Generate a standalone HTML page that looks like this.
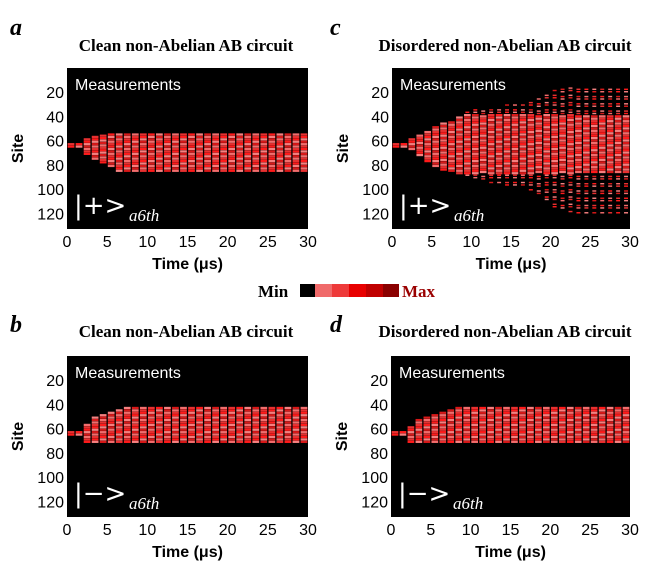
<!DOCTYPE html>
<html><head><meta charset="utf-8"><style>
body{margin:0;background:#fff;width:657px;height:564px;overflow:hidden}
svg{display:block}
.lbl{font-family:"Liberation Serif",serif;font-weight:bold}
.ax{font-family:"Liberation Sans",sans-serif;font-size:16px;fill:#000}
</style></head><body>
<svg id="fig" width="657" height="564">
<text x="10" y="35" class="lbl" font-size="24" font-style="italic">a</text>
<text x="330" y="35" class="lbl" font-size="24" font-style="italic">c</text>
<text x="10" y="332" class="lbl" font-size="24" font-style="italic">b</text>
<text x="330" y="332" class="lbl" font-size="24" font-style="italic">d</text>
<text x="186" y="51" class="lbl" font-size="17" text-anchor="middle">Clean non-Abelian AB circuit</text>
<text x="505" y="51" class="lbl" font-size="17" text-anchor="middle">Disordered non-Abelian AB circuit</text>
<text x="186" y="337" class="lbl" font-size="17" text-anchor="middle">Clean non-Abelian AB circuit</text>
<text x="505" y="337" class="lbl" font-size="17" text-anchor="middle">Disordered non-Abelian AB circuit</text>
<g>
<text x="258" y="297" class="lbl" font-size="17">Min</text>
<rect x="300" y="284" width="15" height="13" fill="#000"/>
<rect x="315" y="284" width="17" height="13" fill="#f06a6a"/>
<rect x="332" y="284" width="17" height="13" fill="#ee3a3a"/>
<rect x="349" y="284" width="17" height="13" fill="#e80000"/>
<rect x="366" y="284" width="17" height="13" fill="#c00000"/>
<rect x="383" y="284" width="16" height="13" fill="#8a0000"/>
<text x="402" y="297" class="lbl" font-size="17" fill="#9a0000">Max</text>
</g>
<g id="panels"></g>
</svg>
<script>
const times=[0,1,2,3,4,5,6,7,8,9,10,11,12,13,14,15,16,17,18,19,20,21,22,23,24,25,26,27,28,29];
const topA=[62,62,58,56,55,54,54,54,54,54,54,54,54,54,54,54,54,54,54,54,54,54,54,54,54,54,54,54,54,54];
const botA=[66,66,72,76,78,82,85,85,85,85,85,85,85,85,85,85,85,85,85,85,85,85,85,85,85,85,85,85,85,85];
const topC=[62,62,58,55,52,48,45,44,40,36,34,33,32,32,30,30,30,28,25,22,18,17,16,15,15,15,15,15,15,15];
const botC=[66,66,68,72,78,82,85,86,88,90,92,93,95,96,98,100,100,102,104,110,115,118,120,121,121,121,121,121,121,121];
const topB=[62,62,56,50,48,46,44,42,42,42,42,42,42,42,42,42,42,42,42,42,42,42,42,42,42,42,42,42,42,42];
const botB=[66,66,72,72,72,72,72,72,72,72,72,72,72,72,72,72,72,72,72,72,72,72,72,72,72,72,72,72,72,72];
const topD=[62,62,58,52,50,48,46,44,42,42,42,42,42,42,42,42,42,42,42,42,42,42,42,42,42,42,42,42,42,42];
const botD=[66,66,72,72,72,72,72,72,72,72,72,72,72,72,72,72,72,72,72,72,72,72,72,72,72,72,72,72,72,72];
const xTicks=[0,5,10,15,20,25,30];
const yTicks=[20,40,60,80,100,120];
const panels=[
 {id:'a',x:67,y:68,w:241,h:161,top:topA,bot:botA,ket:'+',sparse:false},
 {id:'c',x:392,y:68,w:238,h:161,top:topC,bot:botC,ket:'+',sparse:true},
 {id:'b',x:67,y:356,w:241,h:161,top:topB,bot:botB,ket:'−',sparse:false},
 {id:'d',x:391,y:356,w:239,h:161,top:topD,bot:botD,ket:'−',sparse:false}];
const NS='http://www.w3.org/2000/svg';
const cols=['#f26d6d','#e83030','#ff1a1a','#f58080','#d81818'];
function mk(t,a,p){const e=document.createElementNS(NS,t);for(const k in a)e.setAttribute(k,a[k]);p.appendChild(e);return e;}
const root=document.getElementById('panels');
panels.forEach(P=>{
 const g=mk('g',{},root);
 
 
 const sx=t=>P.x+t/30*P.w, sy=s=>P.y+s/133*P.h;
 const bg=mk('rect',{x:P.x,y:P.y,width:P.w,height:P.h,fill:'#000'},g);
 
 
 times.forEach((t,i)=>{
  for(let s=P.top[i];s<P.bot[i];s+=2){
   const far=P.sparse && Math.abs(s-62)>24;
   if(far && (s/2|0)%3===1) continue;
   const w0=far?0.25:0.08, w1=far?0.75:0.92;
   const c=mk('rect',{x:sx(t+w0),y:sy(s),width:sx(t+w1)-sx(t+w0),height:sy(s+(far?1.2:1.85))-sy(s),fill:cols[(s/2+i)%5|0]},g);
   
   
  }
 });
 const m=mk('text',{x:P.x+8,y:P.y+22,fill:'#fff','font-family':'Liberation Sans, sans-serif','font-size':'16'},g);
 m.textContent='Measurements';
 
 
 const k=mk('text',{x:P.x+7,y:P.y+P.h-15,fill:'#fff','font-family':'DejaVu Sans, sans-serif','font-size':'26'},g);
 k.textContent='|'+P.ket+'>';
 
 
 const k2=mk('text',{x:P.x+62,y:P.y+P.h-8,fill:'#fff','font-family':'Liberation Serif, serif','font-size':'17','font-style':'italic'},g);
 k2.textContent='a6th';
 
 
 xTicks.forEach(v=>{const tx=mk('text',{x:sx(v),y:P.y+P.h+18,'text-anchor':'middle',class:'ax'},g);tx.textContent=v;
  
  });
 yTicks.forEach(v=>{const tx=mk('text',{x:P.x-3,y:sy(v)+6,'text-anchor':'end',class:'ax'},g);tx.textContent=v;
  
  });
 const xt=mk('text',{x:P.x+P.w/2,y:P.y+P.h+40,'text-anchor':'middle',class:'ax','font-weight':'bold','font-size':'19'},g);
 xt.textContent='Time (μs)';
 
 
 const yt=mk('text',{x:0,y:0,'text-anchor':'middle',class:'ax','font-weight':'bold','font-size':'20',transform:`translate(${P.x-44},${P.y+P.h/2}) rotate(-90)`},g);
 yt.textContent='Site';
 
 
});
</script>
</body></html>
